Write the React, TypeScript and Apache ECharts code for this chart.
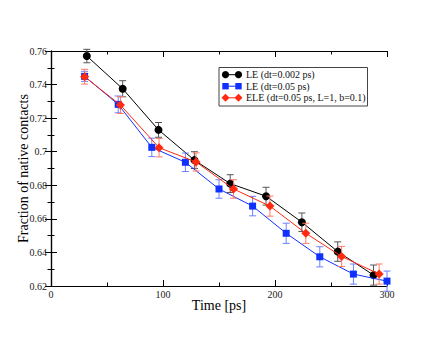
import React, { useEffect, useRef } from "react";
import * as echarts from "echarts";

const leTimes = [32, 64, 96, 128, 160, 192, 224, 256, 288];
const leValues = [0.757, 0.7375, 0.713, 0.695, 0.681, 0.6735, 0.658, 0.6405, 0.6265];
const leErrors = [0.004, 0.0048, 0.0044, 0.005, 0.0053, 0.0053, 0.0055, 0.0058, 0.006];

const le05Times = [30, 60, 90, 120, 150, 180, 210, 240, 270, 300];
const le05Values = [0.7449, 0.7282, 0.7026, 0.6937, 0.6778, 0.6676, 0.6514, 0.6374, 0.6271, 0.6229];
const le05Errors = [0.003, 0.005, 0.0055, 0.0055, 0.0055, 0.0058, 0.006, 0.006, 0.006, 0.006];

const eleTimes = [30, 62, 96.5, 129.5, 163, 195.5, 227.5, 259.5, 293];
const eleValues = [0.7447, 0.7278, 0.7024, 0.6939, 0.6778, 0.6676, 0.6514, 0.6376, 0.6271];
const eleErrors = [0.0044, 0.005, 0.0055, 0.0054, 0.0055, 0.006, 0.006, 0.006, 0.006];

const legendLabels = [
  "LE (dt=0.002 ps)",
  "LE (dt=0.05 ps)",
  "ELE (dt=0.05 ps, L=1, b=0.1)",
];

const xTitle = "Time [ps]";
const yTitle = "Fraction of native contacts";

const FONT = "'Liberation Serif', 'DejaVu Serif', serif";

function pts(xs: number[], ys: number[]) {
  return xs.map((x, i) => [x, ys[i]]);
}
function errs(xs: number[], ys: number[], es: number[]) {
  return xs.map((x, i) => [x, ys[i] - es[i], ys[i] + es[i]]);
}

function errorSeries(data: number[][], color: string, z: number) {
  return {
    type: "custom",
    z,
    data,
    clip: false,
    renderItem: (params: any, api: any) => {
      const x = api.value(0);
      const lo = api.value(1);
      const hi = api.value(2);
      const top = api.coord([x, hi]);
      const bot = api.coord([x, lo]);
      const w = 3.5;
      const st = { stroke: color, lineWidth: 1 };
      return {
        type: "group",
        children: [
          { type: "line", shape: { x1: top[0], y1: top[1], x2: bot[0], y2: bot[1] }, style: st },
          { type: "line", shape: { x1: top[0] - w, y1: top[1], x2: top[0] + w, y2: top[1] }, style: st },
          { type: "line", shape: { x1: bot[0] - w, y1: bot[1], x2: bot[0] + w, y2: bot[1] }, style: st },
        ],
      };
    },
  };
}

export default function App() {
  const ref = useRef<HTMLDivElement>(null);
  useEffect(() => {
    if (!ref.current) return;
    const chart = echarts.init(ref.current, null, { renderer: "svg" });
    const black = "#000000";
    const blue = "#1030ff";
    const red = "#ff2a10";
    const tickCommon = {
      axisLine: { show: true, lineStyle: { color: "#000", width: 1.2 } },
      splitLine: { show: false },
      axisTick: { show: true, inside: true, length: 6, lineStyle: { color: "#000", width: 1 } },
      minorTick: { show: true, splitNumber: 2, length: 3.5, lineStyle: { color: "#000", width: 1 } },
      minorSplitLine: { show: false },
    };
    const legendX = 219;
    const legendY = 67.5;
    const rowY = [74.7, 86.2, 97.8];
    const legendItems: any[] = [
      {
        type: "rect",
        shape: { x: legendX, y: legendY, width: 148.5, height: 38.5 },
        style: { fill: "#fff", stroke: "#444", lineWidth: 1 },
      },
    ];
    const colors = [black, blue, red];
    colors.forEach((c, i) => {
      const y = rowY[i];
      legendItems.push({
        type: "line",
        shape: { x1: 225.5, y1: y, x2: 238.5, y2: y },
        style: { stroke: c, lineWidth: 1 },
      });
      [225.5, 238.5].forEach((cx) => {
        if (i === 0) {
          legendItems.push({ type: "circle", shape: { cx, cy: y, r: 3.6 }, style: { fill: c } });
        } else if (i === 1) {
          legendItems.push({ type: "rect", shape: { x: cx - 3.2, y: y - 3.2, width: 6.4, height: 6.4 }, style: { fill: c } });
        } else {
          legendItems.push({
            type: "polygon",
            shape: { points: [[cx, y - 4], [cx + 4, y], [cx, y + 4], [cx - 4, y]] },
            style: { fill: c },
          });
        }
      });
      legendItems.push({
        type: "text",
        x: 246,
        y,
        style: {
          text: legendLabels[i],
          font: `10px ${FONT}`,
          fill: "#111",
          verticalAlign: "middle",
          align: "left",
        },
      });
    });

    chart.setOption({
      animation: false,
      backgroundColor: "#fff",
      grid: { left: 51, right: 49, top: 51, bottom: 51, show: false },
      xAxis: [
        {
          type: "value",
          min: 0,
          max: 300,
          interval: 100,
          position: "bottom",
          ...tickCommon,
          axisLabel: { color: "#222", fontSize: 10, fontFamily: FONT, margin: 3 },
          name: xTitle,
          nameLocation: "middle",
          nameGap: 12,
          nameMoveOverlap: false,
          nameTextStyle: { color: "#000", fontSize: 14, fontFamily: FONT, verticalAlign: "top" },
        },
        {
          type: "value",
          min: 0,
          max: 300,
          interval: 100,
          position: "top",
          ...tickCommon,
          axisLabel: { show: false },
        },
      ],
      yAxis: [
        {
          type: "value",
          min: 0.62,
          max: 0.76,
          interval: 0.02,
          position: "left",
          ...tickCommon,
          axisLabel: { color: "#222", fontSize: 10, fontFamily: FONT, margin: 4 },
          name: yTitle,
          nameLocation: "middle",
          nameGap: 21,
          nameMoveOverlap: false,
          nameTextStyle: { color: "#000", fontSize: 14, fontFamily: FONT },
        },
        {
          type: "value",
          min: 0.62,
          max: 0.76,
          interval: 0.02,
          position: "right",
          ...tickCommon,
          axisLabel: { show: false },
        },
      ],
      series: [
        errorSeries(errs(leTimes, leValues, leErrors), "#555555", 2),
        {
          type: "line",
          z: 3,
          data: pts(leTimes, leValues),
          symbol: "circle",
          symbolSize: 8,
          itemStyle: { color: black },
          lineStyle: { color: black, width: 1 },
        },
        errorSeries(errs(le05Times, le05Values, le05Errors), "#6a80ff", 4),
        {
          type: "line",
          z: 5,
          data: pts(le05Times, le05Values),
          symbol: "rect",
          symbolSize: 7,
          itemStyle: { color: blue },
          lineStyle: { color: blue, width: 1 },
        },
        errorSeries(errs(eleTimes, eleValues, eleErrors), "#ff7a66", 6),
        {
          type: "line",
          z: 7,
          data: pts(eleTimes, eleValues),
          symbol: "diamond",
          symbolSize: 9,
          itemStyle: { color: red },
          lineStyle: { color: red, width: 1 },
        },
      ],
      graphic: legendItems,
    });
    return () => chart.dispose();
  }, []);
  return (
    <div
      ref={ref}
      style={{ position: "absolute", left: 0, top: 0, width: 436, height: 337 }}
    />
  );
}
